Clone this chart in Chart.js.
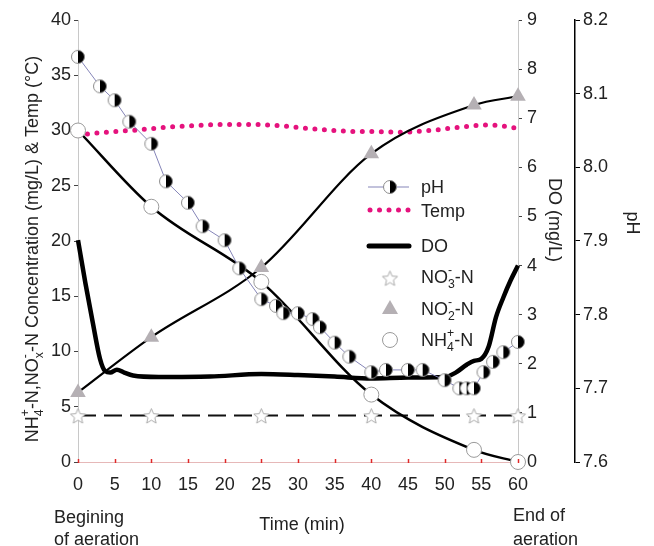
<!DOCTYPE html>
<html>
<head>
<meta charset="utf-8">
<script src="https://cdn.jsdelivr.net/npm/chart.js@4.4.1/dist/chart.umd.min.js"></script>
<style>
  html, body { margin: 0; padding: 0; background: #fff; }
  #wrap { width: 654px; height: 546px; }
</style>
</head>
<body>
<div id="wrap"><canvas id="chart" width="654" height="546"></canvas></div>
<script>
// ------------------------------------
// Data
// ------------------------------------
// nitrogen species sampling times (min)
const nTimes = [0, 10, 25, 40, 54, 60];
const nh4Values = [30, 23.1, 16.3, 6.1, 1.1, 0];
const no2Values = [6.3, 11.3, 17.6, 27.9, 32.3, 33.1];
const no3Values = [4.2, 4.2, 4.2, 4.2, 4.2, 4.2];

// pH readings
const phTimes = [0, 3, 5, 7, 10, 12, 15, 17, 20, 22, 25, 27, 28, 30, 32, 33, 35, 37, 40, 42,
    45, 47, 50, 52, 53, 54, 55.3, 56.6, 58, 60];
const phValues = [8.150, 8.110, 8.091, 8.062, 8.032, 7.981, 7.952, 7.920, 7.901, 7.863,
    7.821, 7.812, 7.802, 7.802, 7.794, 7.783, 7.762, 7.743, 7.722, 7.725,
    7.725, 7.725, 7.711, 7.700, 7.700, 7.700, 7.722, 7.736, 7.749, 7.763];

// temperature (left axis)
const tempTimes = [0, 3, 6, 9, 12, 16, 20, 24, 28, 32, 36, 40, 44, 48, 52, 56, 60];
const tempValues = [29.6, 29.8, 29.95, 30.1, 30.3, 30.45, 30.55, 30.55, 30.4, 30.15, 29.95,
    29.9, 29.85, 30.0, 30.3, 30.5, 30.2];

// dissolved oxygen (DO axis)
const doTimes = [0, 1, 2, 3, 3.7, 4.4, 5.3, 6.3, 7.5, 11, 18, 25, 30, 35, 40, 45, 50, 51.5,
    53, 54, 55, 56, 57, 58, 59, 60];
const doValues = [4.52, 3.65, 2.85, 2.1, 1.85, 1.82, 1.88, 1.82, 1.76, 1.73, 1.74, 1.79, 1.77,
    1.74, 1.7, 1.72, 1.73, 1.82, 1.98, 2.06, 2.1, 2.35, 2.95, 3.35, 3.7, 4.0];

// axis ranges / steps
const timeRange = [0, 60, 5];
const concRange = [0, 40, 5];
const doRange = [0, 9, 1];
const phRange = [7.6, 8.2, 0.1];

const FONT = '"Liberation Sans", Arial, sans-serif';
const TEXT = '#222';

const toXY = (xs, ys) => xs.map((x, i) => ({ x: x, y: ys[i] }));

// ------------------------------------
// Marker images
// ------------------------------------
function halfCircle(r) {
    const c = document.createElement('canvas');
    const s = Math.ceil(r * 2 + 3);
    c.width = c.height = s;
    const g = c.getContext('2d');
    const m = s / 2;
    g.beginPath(); g.arc(m, m, r, 0, Math.PI * 2); g.fillStyle = '#fff'; g.fill();
    g.beginPath(); g.arc(m, m, r, -Math.PI / 2, Math.PI / 2); g.closePath();
    g.fillStyle = '#000'; g.fill();
    g.beginPath(); g.arc(m, m, r, 0, Math.PI * 2);
    g.strokeStyle = '#8c8c8c'; g.lineWidth = 1; g.stroke();
    return c;
}

function starImg(ro, ri) {
    const c = document.createElement('canvas');
    const s = Math.ceil(ro * 2 + 3);
    c.width = c.height = s;
    const g = c.getContext('2d');
    const m = s / 2;
    g.beginPath();
    for (let i = 0; i < 10; i++) {
        const r = i % 2 === 0 ? ro : ri;
        const a = -Math.PI / 2 + i * Math.PI / 5;
        g.lineTo(m + r * Math.cos(a), m + 1 + r * Math.sin(a));
    }
    g.closePath();
    g.fillStyle = '#fff'; g.fill();
    g.strokeStyle = '#aaa'; g.lineWidth = 1; g.stroke();
    return c;
}

const phMarker = halfCircle(6.5);
const starMarker = starImg(8, 3.6);

// ------------------------------------
// Rich text (sub / superscripts)
// ------------------------------------
function richWidth(ctx, parts, size) {
    let w = 0, lastW = 0;
    parts.forEach(([t, k], i) => {
        ctx.font = (k ? size * 0.68 : size) + 'px ' + FONT;
        const tw = ctx.measureText(t).width;
        if (k === 'sup' && i > 0 && parts[i - 1][1] === 'sub') {
            w += Math.max(0, tw - lastW);
        } else {
            w += tw;
        }
        lastW = tw;
    });
    return w;
}

function drawRich(ctx, parts, x, y, size, align, angle) {
    ctx.save();
    ctx.translate(x, y);
    ctx.rotate(angle || 0);
    ctx.fillStyle = TEXT;
    ctx.textBaseline = 'alphabetic';
    ctx.textAlign = 'left';
    const w = richWidth(ctx, parts, size);
    let cx = align === 'center' ? -w / 2 : 0;
    let prevX = cx;
    parts.forEach(([t, k], i) => {
        ctx.font = (k ? size * 0.68 : size) + 'px ' + FONT;
        const tw = ctx.measureText(t).width;
        let dy = 0;
        if (k === 'sub') dy = size * 0.28;
        if (k === 'sup') dy = -size * 0.48;
        let px = cx;
        if (k === 'sup' && i > 0 && parts[i - 1][1] === 'sub') px = prevX;
        ctx.fillText(t, px, dy);
        if (px === cx) { cx += tw; } else { cx = Math.max(cx, px + tw); }
        prevX = px;
    });
    ctx.restore();
}

// ------------------------------------
// Legend, titles and notes
// ------------------------------------
const annotations = {
    id: 'annotations',
    afterDraw(chart) {
        const ctx = chart.ctx;
        const fs = 18;
        const xs = chart.scales.x;

        // small red time ticks sitting on the axis
        ctx.save();
        ctx.strokeStyle = '#e02828'; ctx.lineWidth = 1.5;
        xs.ticks.forEach(t => {
            const px = Math.round(xs.getPixelForValue(t.value)) + 0.5;
            ctx.beginPath(); ctx.moveTo(px, xs.top - 3); ctx.lineTo(px, xs.top + 1); ctx.stroke();
        });
        ctx.restore();

        // axis titles
        drawRich(ctx, [['NH', ''], ['4', 'sub'], ['+', 'sup'], ['-N,NO', ''], ['x', 'sub'], ['-', 'sup'],
            ['-N Concentration (mg/L) & Temp (°C)', '']], 38, 249, fs, 'center', -Math.PI / 2);
        drawRich(ctx, [['DO (mg/L)', '']], 549, 220, fs, 'center', Math.PI / 2);
        drawRich(ctx, [['pH', '']], 627, 223, fs, 'center', Math.PI / 2);
        drawRich(ctx, [['Time (min)', '']], 302, 530, fs, 'center', 0);

        // notes under the time axis
        drawRich(ctx, [['Begining', '']], 54, 523, fs, 'left', 0);
        drawRich(ctx, [['of aeration', '']], 54, 545, fs, 'left', 0);
        drawRich(ctx, [['End of', '']], 513, 521, fs, 'left', 0);
        drawRich(ctx, [['aeration', '']], 513, 545, fs, 'left', 0);

        // legend
        const lx = 368, rx = 409, mx = 390, tx = 421;
        ctx.save();
        // pH
        ctx.strokeStyle = '#8585b8'; ctx.lineWidth = 1;
        ctx.beginPath(); ctx.moveTo(lx, 187); ctx.lineTo(rx, 187); ctx.stroke();
        ctx.drawImage(phMarker, mx - phMarker.width / 2, 187 - phMarker.height / 2);
        // Temp
        ctx.fillStyle = '#e5127d';
        for (let i = 0; i < 5; i++) {
            ctx.beginPath(); ctx.arc(lx + 2 + i * 9.5, 210, 2.5, 0, Math.PI * 2); ctx.fill();
        }
        // DO
        ctx.strokeStyle = '#000'; ctx.lineWidth = 5; ctx.lineCap = 'round';
        ctx.beginPath(); ctx.moveTo(lx + 1, 246); ctx.lineTo(rx, 246); ctx.stroke();
        // NO3
        ctx.drawImage(starMarker, mx - starMarker.width / 2, 278 - starMarker.height / 2);
        // NO2
        ctx.fillStyle = '#b5b0b4';
        ctx.beginPath(); ctx.moveTo(mx, 300); ctx.lineTo(mx + 8, 314); ctx.lineTo(mx - 8, 314);
        ctx.closePath(); ctx.fill();
        // NH4
        ctx.fillStyle = '#fff'; ctx.strokeStyle = '#9a9a9a'; ctx.lineWidth = 1;
        ctx.beginPath(); ctx.arc(mx, 340, 7.5, 0, Math.PI * 2); ctx.fill(); ctx.stroke();
        ctx.restore();

        const by = 6;
        drawRich(ctx, [['pH', '']], tx, 187 + by, fs, 'left', 0);
        drawRich(ctx, [['Temp', '']], tx, 211 + by, fs, 'left', 0);
        drawRich(ctx, [['DO', '']], tx, 246 + by, fs, 'left', 0);
        drawRich(ctx, [['NO', ''], ['3', 'sub'], ['-', 'sup'], ['-N', '']], tx, 277 + by, fs, 'left', 0);
        drawRich(ctx, [['NO', ''], ['2', 'sub'], ['-', 'sup'], ['-N', '']], tx, 309 + by, fs, 'left', 0);
        drawRich(ctx, [['NH', ''], ['4', 'sub'], ['+', 'sup'], ['-N', '']], tx, 340 + by, fs, 'left', 0);
    }
};

// ------------------------------------
// Chart
// ------------------------------------
function initChart() {
    const ctx = document.getElementById('chart').getContext('2d');
    const tickFont = { family: FONT, size: 18 };

    new Chart(ctx, {
        type: 'line',
        data: {
            datasets: [
                {
                    label: 'pH',
                    data: toXY(phTimes, phValues),
                    yAxisID: 'y2',
                    borderColor: '#8585b8',
                    borderWidth: 1,
                    tension: 0,
                    pointStyle: phMarker,
                    order: 0,
                    clip: false
                },
                {
                    label: 'NH4+-N',
                    data: toXY(nTimes, nh4Values),
                    yAxisID: 'y',
                    borderColor: '#000',
                    borderWidth: 2.5,
                    cubicInterpolationMode: 'monotone',
                    pointStyle: 'circle',
                    pointRadius: 7.5,
                    pointBackgroundColor: '#fff',
                    pointBorderColor: '#9a9a9a',
                    pointBorderWidth: 1,
                    order: 1,
                    clip: false
                },
                {
                    label: 'NO2--N',
                    data: toXY(nTimes, no2Values),
                    yAxisID: 'y',
                    borderColor: '#000',
                    borderWidth: 2.2,
                    cubicInterpolationMode: 'monotone',
                    pointStyle: 'triangle',
                    pointRadius: 9,
                    pointBackgroundColor: '#b5b0b4',
                    pointBorderWidth: 0,
                    order: 2,
                    clip: false
                },
                {
                    label: 'NO3--N',
                    data: toXY(nTimes, no3Values),
                    yAxisID: 'y',
                    borderColor: '#111',
                    borderWidth: 2,
                    borderDash: [18, 8],
                    tension: 0,
                    pointStyle: starMarker,
                    order: 3,
                    clip: false
                },
                {
                    label: 'DO',
                    data: toXY(doTimes, doValues),
                    yAxisID: 'y1',
                    borderColor: '#000',
                    borderWidth: 4.5,
                    cubicInterpolationMode: 'monotone',
                    pointRadius: 0,
                    order: 4,
                    clip: false
                },
                {
                    label: 'Temp',
                    data: toXY(tempTimes, tempValues),
                    yAxisID: 'y',
                    borderColor: '#e5127d',
                    borderWidth: 5,
                    borderDash: [0, 9.5],
                    borderCapStyle: 'round',
                    cubicInterpolationMode: 'monotone',
                    pointRadius: 0,
                    order: 5,
                    clip: false
                }
            ]
        },
        options: {
            responsive: false,
            animation: false,
            devicePixelRatio: 1,
            layout: { padding: { top: 20, left: 0, right: 0, bottom: 0 } },
            plugins: {
                legend: { display: false },
                tooltip: { enabled: false },
                title: { display: false }
            },
            scales: {
                x: {
                    type: 'linear',
                    min: timeRange[0], max: timeRange[1],
                    ticks: { stepSize: timeRange[2], font: tickFont, color: TEXT, padding: 12, maxRotation: 0 },
                    grid: { drawOnChartArea: false, drawTicks: false },
                    border: { color: '#e6b8b8', width: 1 },
                    afterFit(s) { s.height = 84; }
                },
                y: {
                    position: 'left',
                    min: concRange[0], max: concRange[1],
                    ticks: { stepSize: concRange[2], font: tickFont, color: TEXT, padding: 3 },
                    grid: { drawOnChartArea: false, tickLength: 4, color: '#444' },
                    border: { color: '#c8c8c8', width: 1 },
                    afterFit(s) { s.width = 78; }
                },
                y1: {
                    position: 'right',
                    weight: 0,
                    min: doRange[0], max: doRange[1],
                    ticks: { stepSize: doRange[2], font: tickFont, color: TEXT, padding: 5 },
                    grid: { drawOnChartArea: false, tickLength: 4, color: '#444' },
                    border: { color: '#c8c8c8', width: 1 },
                    afterFit(s) { s.width = 57; }
                },
                y2: {
                    position: 'right',
                    weight: 1,
                    min: phRange[0], max: phRange[1],
                    ticks: {
                        stepSize: phRange[2], font: tickFont, color: TEXT, padding: 3,
                        callback: v => Number(v).toFixed(1)
                    },
                    grid: { drawOnChartArea: false, tickLength: 5, color: '#000' },
                    border: { color: '#000', width: 1.5 },
                    afterFit(s) { s.width = 79; }
                }
            }
        },
        plugins: [annotations]
    });
}

window.onload = initChart;
</script>
</body>
</html>
